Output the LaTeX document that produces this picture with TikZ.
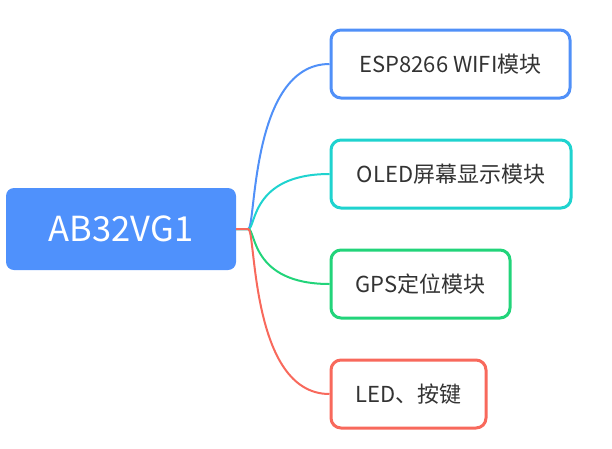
\documentclass[tikz,border=0pt]{standalone}
\usepackage{fontspec}
\newfontfamily\cjk{Noto Sans CJK SC}
\usetikzlibrary{positioning}

\definecolor{rootblue}{HTML}{4F91FC}
\definecolor{wifiblue}{HTML}{5090F8}
\definecolor{oledteal}{HTML}{1FD3CF}
\definecolor{gpsgreen}{HTML}{22D47A}
\definecolor{ledred}{HTML}{F8695C}
\definecolor{txtgray}{HTML}{333333}

\begin{document}
\begin{tikzpicture}[
		x=1pt, y=-1pt,
		root/.style={rectangle, rounded corners=8pt, fill=rootblue, text=white, minimum width=230pt, minimum height=82pt, font=\cjk\fontsize{34.5}{38}\selectfont},
		leaf/.style={rectangle, draw, line width=3pt, rounded corners=10pt, fill=white, text=txtgray, inner xsep=20pt, minimum height=68pt, anchor=west, font=\cjk\fontsize{22}{25}\selectfont},
		branch/.style={line width=2pt}
		]
		\useasboundingbox (0,0) rectangle (612,448);
		\node[root] (mcu) at (121,229) {AB32VG1};
		\node[leaf, draw=wifiblue, minimum width=239pt] (wifi) at (329.5,64) {ESP8266 WIFI模块};
		\node[leaf, draw=oledteal, minimum width=240pt] (oled) at (329.5,174) {OLED屏幕显示模块};
		\node[leaf, draw=gpsgreen, minimum width=179pt] (gps) at (329.5,284) {GPS定位模块};
		\node[leaf, draw=ledred, minimum width=155pt] (led) at (329.5,394) {LED、按键};

		\draw[branch, wifiblue] (mcu.east) -- ++(12,0) .. controls +(8,0) and (250,64) .. (wifi.west);
		\draw[branch, oledteal] (mcu.east) -- ++(12,0) .. controls +(8,0) and (250,174) .. (oled.west);
		\draw[branch, gpsgreen] (mcu.east) -- ++(12,0) .. controls +(8,0) and (250,284) .. (gps.west);
		\draw[branch, ledred] (mcu.east) -- ++(12,0) .. controls +(8,0) and (250,394) .. (led.west);
	\end{tikzpicture}
\end{document}
